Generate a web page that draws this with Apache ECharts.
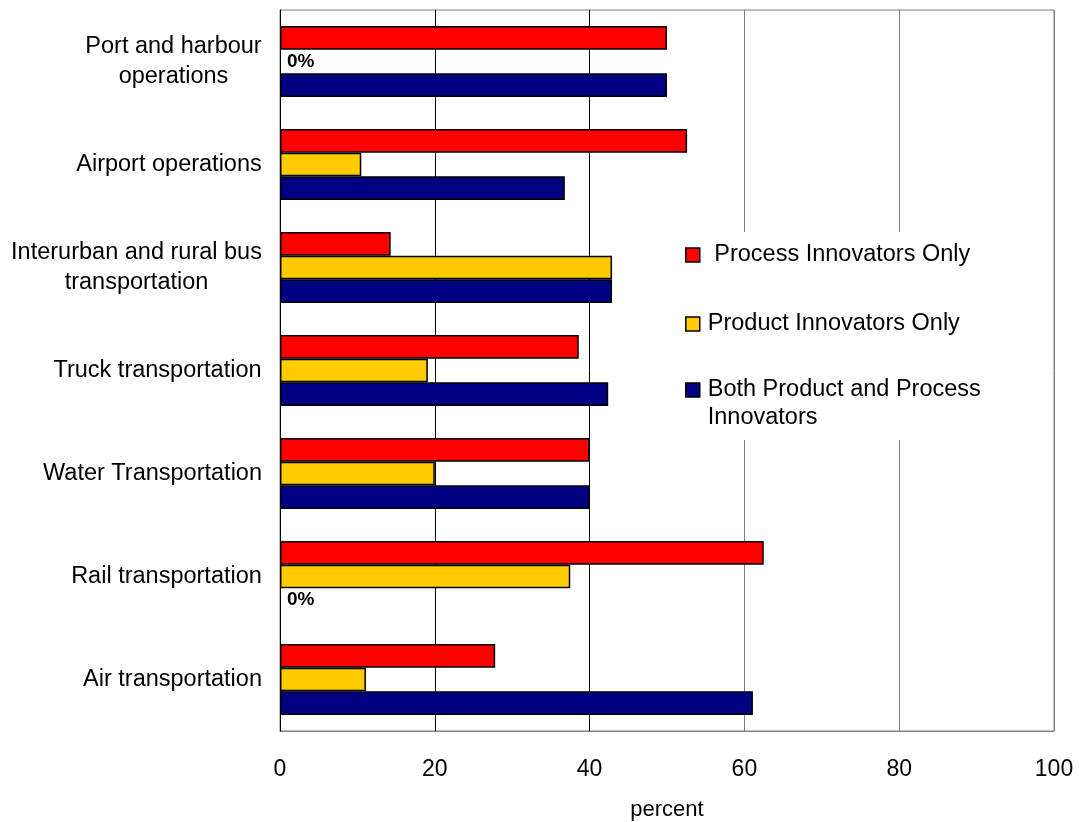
<!DOCTYPE html>
<html>
<head>
<meta charset="utf-8">
<script src="https://cdn.jsdelivr.net/npm/echarts@6/dist/echarts.min.js"></script>
<style>
  html, body { margin: 0; padding: 0; background: #fff; }
  #chart { width: 1079px; height: 822px; }
</style>
</head>
<body>
<div id="chart"></div>
<script>
// Industries, top to bottom
const categories = [
  'Port and harbour\noperations',
  'Airport operations',
  'Interurban and rural bus\ntransportation',
  'Truck transportation',
  'Water Transportation',
  'Rail transportation',
  'Air transportation'
];

// Share of innovating firms by type (percent)
const processOnly = [50.0, 52.6, 14.3, 38.6, 40.0, 62.5, 27.8];
const productOnly = [0, 10.5, 42.9, 19.1, 20.0, 37.5, 11.1];
const bothTypes   = [50.0, 36.8, 42.9, 42.4, 40.0, 0, 61.1];

const seriesNames = [
  'Process Innovators Only',
  'Product Innovators Only',
  'Both Product and Process\nInnovators'
];

const xTicks = [0, 20, 40, 60, 80, 100];

const FONT = '"Liberation Sans", Arial, sans-serif';
const LABEL_SIZE = 23.5;

// Measure the widest line of each category label so multi-line labels
// can be centred line-by-line while the block stays right-aligned.
const ctx = document.createElement('canvas').getContext('2d');
ctx.font = LABEL_SIZE + 'px ' + FONT;
const rich = {};
categories.forEach((c, i) => {
  const w = Math.max.apply(null, c.split('\n').map(s => ctx.measureText(s).width));
  rich['c' + i] = { width: Math.ceil(w), align: 'center', fontSize: LABEL_SIZE, lineHeight: 30, fontFamily: FONT, color: '#000' };
});

const colors = ['#FF0000', '#FFCC00', '#000080'];
const barBorder = { borderColor: '#000', borderWidth: 1.5 };

// Zero-length bars get no outline, only their "0%" label
function barData(values) {
  return values.map(v => (v === 0 ? { value: 0, itemStyle: { borderWidth: 0 } } : v));
}

function zeroLabel() {
  return {
    show: true,
    position: 'right',
    distance: 7,
    formatter: p => (p.value === 0 ? '0%' : ''),
    fontFamily: FONT,
    fontSize: 19,
    fontWeight: 'bold',
    color: '#000'
  };
}

const chart = echarts.init(document.getElementById('chart'), null, { renderer: 'canvas' });

const legendText = { fontFamily: FONT, fontSize: 23.5, color: '#000', lineHeight: 28, padding: [0, 0, 0, 3] };
const legendItem = { borderColor: '#000', borderWidth: 1.5 };

chart.setOption({
  animation: false,
  backgroundColor: '#fff',
  grid: {
    left: 280, right: 25, top: 10, bottom: 91,
    outerBoundsMode: 'none',
    containLabel: false,
    show: true, borderColor: '#808080', borderWidth: 1
  },
  legend: [
    {
      data: [seriesNames[0]],
      formatter: ' {name}',
      orient: 'vertical',
      left: 670, top: 232,
      padding: [9, 25, 171, 15],
      backgroundColor: '#fff',
      itemWidth: 14, itemHeight: 14,
      icon: 'rect',
      itemStyle: legendItem,
      textStyle: legendText,
      selectedMode: false,
      z: 3
    },
    {
      data: [seriesNames[1]],
      orient: 'vertical',
      left: 670, top: 310,
      padding: [0, 0, 0, 15],
      itemWidth: 14, itemHeight: 14,
      icon: 'rect',
      itemStyle: legendItem,
      textStyle: legendText,
      selectedMode: false,
      z: 4
    },
    {
      // a blank leading line keeps the icon beside the first line of the label
      data: [seriesNames[2]],
      formatter: '\n{name}',
      orient: 'vertical',
      left: 670, top: 348,
      padding: [0, 0, 0, 15],
      itemWidth: 14, itemHeight: 14,
      icon: 'rect',
      itemStyle: legendItem,
      textStyle: legendText,
      selectedMode: false,
      z: 4
    }
  ],
  xAxis: {
    type: 'value',
    min: 0, max: 100, interval: 20,
    name: 'percent',
    nameLocation: 'middle',
    nameGap: 68,
    nameTextStyle: { fontFamily: FONT, fontSize: 22, color: '#000' },
    axisLine: { show: true, lineStyle: { color: '#808080', width: 1 } },
    axisTick: { show: false },
    axisLabel: {
      margin: 27,
      fontFamily: FONT, fontSize: 23, color: '#000',
      formatter: v => (xTicks.indexOf(v) >= 0 ? String(v) : '')
    },
    splitLine: {
      show: true,
      lineStyle: { color: ['#808080', '#000', '#000', '#808080', '#808080', '#808080'], width: 1 }
    }
  },
  yAxis: {
    type: 'category',
    data: categories,
    inverse: true,
    z: 5,
    axisLine: { show: true, lineStyle: { color: '#000', width: 1 } },
    axisTick: { show: false },
    axisLabel: {
      margin: 18,
      interval: 0,
      fontFamily: FONT, fontSize: LABEL_SIZE, color: '#000',
      formatter: (v, i) => '{c' + i + '|' + v + '}',
      rich: rich
    },
    splitLine: { show: false }
  },
  series: [
    {
      name: seriesNames[0], type: 'bar', data: barData(processOnly),
      barGap: '0%', barCategoryGap: '31%',
      itemStyle: Object.assign({ color: colors[0] }, barBorder)
    },
    {
      name: seriesNames[1], type: 'bar', data: barData(productOnly),
      barGap: '0%', barCategoryGap: '31%',
      itemStyle: Object.assign({ color: colors[1] }, barBorder),
      label: zeroLabel()
    },
    {
      name: seriesNames[2], type: 'bar', data: barData(bothTypes),
      barGap: '0%', barCategoryGap: '31%',
      itemStyle: Object.assign({ color: colors[2] }, barBorder),
      label: zeroLabel()
    }
  ]
});
</script>
</body>
</html>
